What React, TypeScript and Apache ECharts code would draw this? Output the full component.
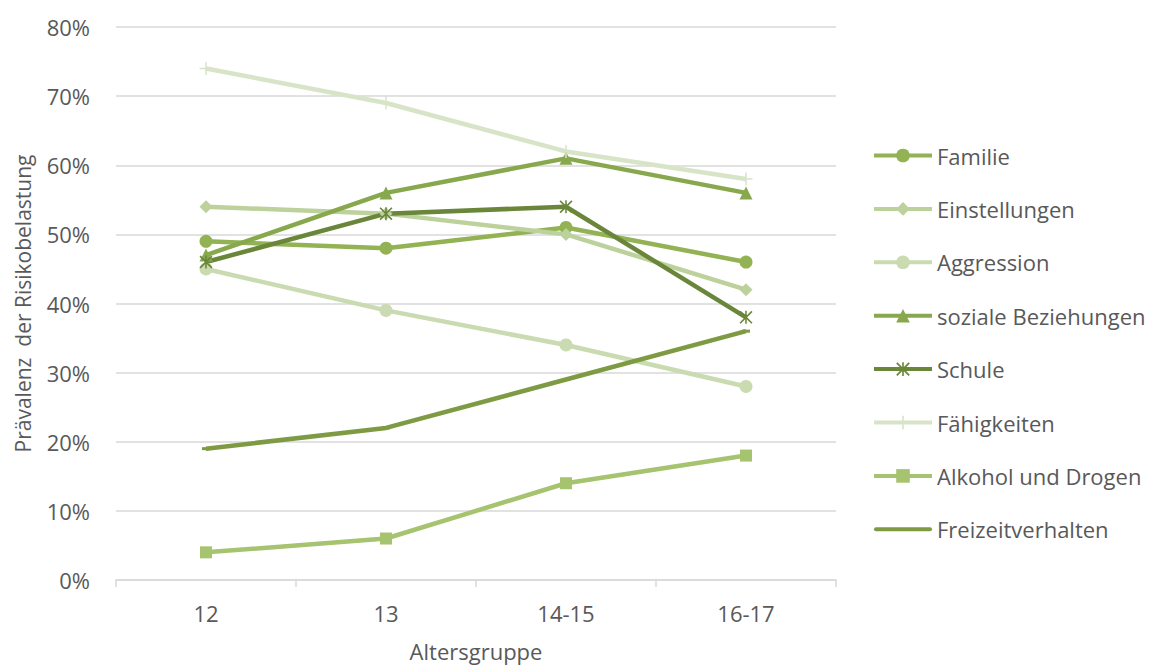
import React, { useEffect, useRef } from "react";
import * as echarts from "echarts";

const categories = ["12", "13", "14-15", "16-17"];
const yTicks = [0, 10, 20, 30, 40, 50, 60, 70, 80];

const familie = [49, 48, 51, 46];
const einstellungen = [54, 53, 50, 42];
const aggression = [45, 39, 34, 28];
const sozialeBeziehungen = [47, 56, 61, 56];
const schule = [46, 53, 54, 38];
const faehigkeiten = [74, 69, 62, 58];
const alkoholDrogen = [4, 6, 14, 18];
const freizeitverhalten = [19, 22, 29, 36];

const plusPath = "path://M4.4,0H5.6V10H4.4Z M0,4.4H10V5.6H0Z";
const starPath = "path://M0,0.9L0.9,0L10,9.1L9.1,10Z M9.1,0L10,0.9L0.9,10L0,9.1Z M4.4,0H5.6V10H4.4Z";
const dashPath = "path://M0,0H10V3H0Z";
const legendLinePath = "path://M2,0H56A2,2 0 0 1 56,4H2A2,2 0 0 1 2,0Z";

const seriesDefs = [
  { name: "Familie", data: familie, color: "#92B254", symbol: "circle", size: 13 },
  { name: "Einstellungen", data: einstellungen, color: "#BCD19B", symbol: "diamond", size: 13 },
  { name: "Aggression", data: aggression, color: "#CADAB1", symbol: "circle", size: 13 },
  { name: "soziale Beziehungen", data: sozialeBeziehungen, color: "#88A84D", symbol: "triangle", size: 13 },
  { name: "Schule", data: schule, color: "#6A863A", symbol: starPath, size: 13 },
  { name: "Fähigkeiten", data: faehigkeiten, color: "#D8E4C8", symbol: plusPath, size: 13 },
  { name: "Alkohol und Drogen", data: alkoholDrogen, color: "#A6C36F", symbol: "rect", size: 12 },
  { name: "Freizeitverhalten", data: freizeitverhalten, color: "#7E9B44", symbol: dashPath, size: [8, 3] as any },
];

export default function App() {
  const ref = useRef<HTMLDivElement>(null);
  useEffect(() => {
    const chart = echarts.init(ref.current!, null, { renderer: "svg" });
    const font = "'Open Sans', 'Noto Sans', sans-serif";
    chart.setOption({
      animation: false,
      textStyle: { fontFamily: font },
      grid: { left: 116, right: 326, top: 27, bottom: 86, containLabel: false, outerBoundsMode: "none" },
      legend: {
        orient: "vertical",
        left: 872,
        top: 144.5,
        padding: 0,
        itemWidth: 58,
        itemHeight: 17,
        itemGap: 31.4,
        lineStyle: { width: 4 },
        textStyle: { fontFamily: font, fontSize: 22, color: "#595959", padding: [0, 0, 0, 0] },
        data: seriesDefs.map((s) =>
          s.name === "Freizeitverhalten" ? { name: s.name, icon: legendLinePath } : s.name
        ),
      },
      xAxis: {
        type: "category",
        data: categories,
        boundaryGap: true,
        name: "Altersgruppe",
        nameLocation: "middle",
        nameGap: 60,
        nameTextStyle: { fontFamily: font, fontSize: 22, color: "#595959" },
        axisLine: { lineStyle: { color: "#D9D9D9", width: 1.5 } },
        axisTick: { show: true, length: 7, lineStyle: { color: "#D9D9D9", width: 1.5 } },
        axisLabel: { fontFamily: font, fontSize: 22, color: "#595959", margin: 22 },
      },
      yAxis: {
        type: "value",
        min: 0,
        max: 80,
        interval: 10,
        name: "Prävalenz  der Risikobelastung",
        nameLocation: "middle",
        nameGap: 83,
        nameTextStyle: { fontFamily: font, fontSize: 21, color: "#595959" },
        axisLine: { show: false },
        axisTick: { show: false },
        axisLabel: {
          fontFamily: font,
          fontSize: 22,
          color: "#595959",
          margin: 26,
          formatter: (v: number) => (yTicks.includes(v) ? v + "%" : ""),
        },
        splitLine: { lineStyle: { color: "#D9D9D9", width: 1.5 } },
      },
      series: seriesDefs.map((s) => ({
        name: s.name,
        type: "line",
        data: s.data,
        symbol: s.symbol,
        symbolSize: s.size,
        showAllSymbol: true,
        color: s.color,
        lineStyle: { color: s.color, width: 4.5 },
        itemStyle: { color: s.color },
        z: 2,
      })),
    });
    return () => chart.dispose();
  }, []);
  return (
    <div
      ref={ref}
      style={{ position: "fixed", left: 0, top: 0, width: 1162, height: 666, background: "#fff" }}
    />
  );
}
